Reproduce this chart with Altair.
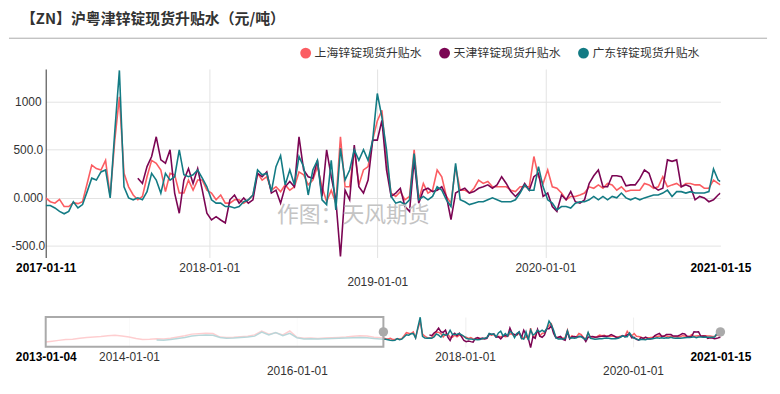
import altair as alt
import pandas as pd

TITLE = "【ZN】沪粤津锌锭现货升贴水（元/吨）"
WATERMARK = "作图：天风期货"
SERIES = ["上海锌锭现货升贴水", "天津锌锭现货升贴水", "广东锌锭现货升贴水"]
COLORS = ["#fb5d62", "#7b0553", "#137b84"]

# ---- early history (only visible in the navigator), roughly monthly ----
EARLY_DATES = ["2013-01-04"] + [f"{y}-{m:02d}-01" for y in range(2013, 2017) for m in range(1, 13)][1:]
EARLY_SH = [-250, -200, -150, -100, -80, -20, 30, 60, 100, 150,
            180, 130, 60, -30, -100, -80, -50, -60, -20, 60,
            150, 250, 280, 300, 290, 60, 40, 50, 80, 120,
            200, 450, 250, 330, 200, 450, 50, -20, 0, -30,
            0, 20, 40, 60, 120, 150, 130, 50]
EARLY_GD = [None] * 16 + [
            -120, -140, -100, -30, 40, 130, 170, 200, 180, 30,
            -20, 0, 30, 60, 120, 380, 200, 350, 150, 300,
            20, -60, -40, -60, -50, -30, -10, 0, 20, 40,
            20, -30]

# ---- main period, sampled every 10 days from 2017-01-11 ----
MAIN_DATES = pd.date_range("2017-01-11", periods=147, freq="10D").strftime("%Y-%m-%d").tolist() + ["2021-01-15"]
MAIN_SH = [0, -40, -55, -15, -90, -90, -50, -60, -40, 150,
           340, 305, 290, 390, 15, 600, 1050, 255, 115, 30,
           -20, 15, 220, 390, 360, 290, 65, 255, 240, 50,
           50, 185, 80, 185, 185, 80, 50, -20, 30, -55,
           -55, -20, -20, -55, -20, 30, 255, 185, 220, 80,
           115, 65, 135, 80, 115, 270, 240, 135, 185, 325,
           115, -40, 80, -55, 635, 115, 115, 500, 135, 290,
           325, 600, 800, 910, 390, 50, 15, 65, -20, 15,
           500, -20, 150, 50, 80, 290, 220, 15, -55, 325,
           80, 80, 50, 100, 185, 150, 170, 115, 115, 115,
           115, 80, 65, 115, 115, 115, 430, 220, 150, 290,
           115, 100, 50, -20, 15, 15, 30, 50, 115, 100,
           135, 100, 150, 135, 80, 115, 65, 80, 80, 80,
           150, 135, 100, 115, 220, 115, 135, 150, 115, 150,
           150, 135, 135, 100, 100, 185, 150, 135]
MAIN_TJ = [None] * 20 + [
           205, 150, 325, 430, 635, 395, 360, 500, 50, -160,
           185, 305, 150, 305, 80, -160, -230, -195, -230, -260,
           -20, 30, -55, 0, -55, -20, 255, 220, 270, 50,
           80, -55, 115, 170, 115, 635, 290, 220, 205, 390,
           15, 500, 220, -20, -610, 80, -20, 550, 115, 50,
           185, 600, 600, 805, 290, 15, 50, 100, -90, -140,
           395, -55, 80, 100, 65, 80, 115, 15, -225, 50,
           80, 100, 50, 65, 100, 115, 135, 100, 135, 220,
           150, 65, 15, 65, 150, 80, 220, 255, 15, 50,
           -90, -140, 30, -20, 65, -40, -55, -20, 150, 230,
           290, 115, 115, 230, 230, 220, 125, 135, 135, 200,
           290, 255, 115, 80, 100, 395, 380, 395, 115, 135,
           115, -20, 15, 0, -40, -20, 30, 50]
MAIN_GD = [-80, -80, -105, -140, -165, -140, -40, -105, -70, 65,
           205, 185, 270, 290, 0, 690, 1325, 115, 0, -20,
           0, -20, 65, 255, 185, 50, 255, 185, 220, 500,
           240, 220, 240, 290, 205, 115, -20, -55, -55, -90,
           -90, -105, -90, -40, -20, 30, 290, 240, 255, 65,
           325, 440, 135, 290, 135, 430, 325, 30, 290, 390,
           -20, -70, 390, -125, 515, 185, 290, 500, 390, 500,
           390, 600, 1085, 840, 500, 15, -55, -40, -70, -20,
           460, -20, 15, -20, 15, 115, 80, -20, -90, 360,
           -20, -40, -70, -55, -40, -40, -20, 0, -20, -40,
           -40, -40, -20, 50, 135, 80, 80, 325, 115, -20,
           -55, -125, -90, -90, -105, -55, -40, -40, -20, 15,
           -20, 15, -20, 15, 0, 50, 0, -20, 0, -20,
           0, 15, 30, 30, 50, 80, 15, 65, 65, 50,
           65, 50, 50, 50, 65, 300, 185, 170]

MAIN_TICKS = ["2017-01-11", "2018-01-01", "2019-01-01", "2020-01-01", "2021-01-15"]
OVER_TICKS = ["2013-01-04", "2014-01-01", "2016-01-01", "2018-01-01", "2020-01-01", "2021-01-15"]
Y_TICKS = [-500, 0, 500, 1000]
BOX = ["2013-01-04", "2017-01-11"]
HANDLES = ["2017-01-11", "2021-01-15"]


def dt(s):
    y, m, d = map(int, s.split("-"))
    return alt.DateTime(year=y, month=m, date=d)


def to_long(dates, columns):
    frames = []
    for name, vals in zip(SERIES, columns):
        frames.append(pd.DataFrame({"date": pd.to_datetime(dates), "series": name,
                                    "value": pd.Series(vals, dtype="float")}))
    df = pd.concat(frames, ignore_index=True)
    return df.dropna(subset=["value"])


main_df = to_long(MAIN_DATES, [MAIN_SH, MAIN_TJ, MAIN_GD])
early_df = to_long(EARLY_DATES, [EARLY_SH, [None] * len(EARLY_DATES), EARLY_GD])
over_df = pd.concat([early_df, main_df], ignore_index=True)

FONT = "Liberation Sans"
CJK = "Noto Sans CJK SC"
W, H_MAIN, H_OVER = 680, 190, 30
color_scale = alt.Scale(domain=SERIES, range=COLORS)

BOLD_TEST = "date(datum.value) != 1"
FMT = "timeFormat(datum.value, '%Y-%m-%d')"


def x_axis(ticks, lower_years, grid_color):
    cond = " || ".join(f"year(datum.value) == {y}" for y in lower_years)
    return alt.Axis(
        values=[dt(s) for s in ticks],
        labelExpr=f"({cond}) ? ['', {FMT}] : {FMT}",
        domain=False, ticks=False, grid=True, gridColor=grid_color,
        gridOpacity={"condition": {"test": BOLD_TEST, "value": 0}, "value": 1},
        labelFlush=False, labelOverlap=False, labelPadding=5,
        labelFont=FONT, labelFontSize=12, labelLineHeight=14,
        labelColor={"condition": {"test": BOLD_TEST, "value": "#000"}, "value": "#333"},
        labelFontWeight={"condition": {"test": BOLD_TEST, "value": "bold"}, "value": "normal"},
        title=None,
    )


x_main = alt.X("date:T", title=None,
               scale=alt.Scale(domain=[dt(MAIN_TICKS[0]), dt(MAIN_TICKS[-1])]),
               axis=x_axis(MAIN_TICKS, [2019], "#e3e3e3"))
y_main = alt.Y("value:Q", title=None,
               scale=alt.Scale(domain=[-620, 1340], nice=False, zero=False),
               axis=alt.Axis(values=Y_TICKS,
                             labelExpr="datum.value == 0 ? '0.000' : (datum.value >= 1000 ? format(datum.value, 'd') : (datum.value < 0 ? '-' : '') + format(abs(datum.value), '.1f'))",
                             grid=True, gridColor="#e3e3e3", domain=True, domainColor="#333",
                             ticks=False, labelAlign="center", labelPadding=18,
                             labelFont=FONT, labelFontSize=12, labelColor="#333"))

# legend source: invisible circles carrying the colour scale
legend_layer = alt.Chart(main_df).mark_circle(opacity=0, size=1).encode(
    x=x_main, y=y_main,
    color=alt.Color("series:N", scale=color_scale,
                    legend=alt.Legend(orient="none", legendX=256, legendY=-22, direction="horizontal",
                                      title=None, symbolType="circle", symbolSize=120, symbolOpacity=1,
                                      symbolStrokeWidth=0, columnPadding=16, labelOffset=3, padding=0,
                                      labelFont=CJK, labelFontSize=12, labelColor="#333")),
)
main_lines = [
    alt.Chart(main_df[main_df["series"] == s]).mark_line(strokeWidth=1.6, color=c, clip=True).encode(x=x_main, y=y_main)
    for s, c in zip(SERIES, COLORS)
]
watermark = alt.Chart(pd.DataFrame({"t": [WATERMARK]})).mark_text(
    font=CJK, fontSize=22, color="#c4c4c4", align="center", baseline="middle"
).encode(text="t:N", x=alt.value(310), y=alt.value(147))
title = alt.Chart(pd.DataFrame({"t": [TITLE]})).mark_text(
    font=CJK, fontSize=15, fontWeight="bold", color="#333", align="left", baseline="middle"
).encode(text="t:N", x=alt.value(-25), y=alt.value(-50))
title_rule = alt.Chart(pd.DataFrame({"a": [0]})).mark_rule(color="#aaa", strokeWidth=1).encode(
    x=alt.value(-37), x2=alt.value(727), y=alt.value(-31))
top_anchor = alt.Chart(pd.DataFrame({"a": [0]})).mark_rule(color="#fff", strokeOpacity=0, strokeWidth=1).encode(
    x=alt.value(-37), x2=alt.value(0), y=alt.value(-60))

main = alt.layer(legend_layer, *main_lines, watermark, title, title_rule, top_anchor).properties(
    width=W, height=H_MAIN)

over_scale = alt.Scale(domain=[dt(OVER_TICKS[0]), dt(OVER_TICKS[-1])])
x_over = alt.X("date:T", title=None, scale=over_scale, axis=x_axis(OVER_TICKS, [2016, 2020], "#eeeeee"))
y_over = alt.Y("value:Q", title=None, scale=alt.Scale(domain=[-560, 1340], nice=False, zero=False), axis=None)

over_lines = [
    alt.Chart(over_df[over_df["series"] == s]).mark_line(strokeWidth=1.5, color=c).encode(x=x_over, y=y_over)
    for s, c in zip(SERIES, COLORS)
]
box = alt.Chart(pd.DataFrame({"start": pd.to_datetime([BOX[0]]), "end": pd.to_datetime([BOX[1]])})).mark_rect(
    fill="white", fillOpacity=0.7, stroke="#aaaaaa", strokeWidth=2
).encode(x=alt.X("start:T", scale=over_scale), x2="end:T", y=alt.value(0), y2=alt.value(H_OVER))
handles = alt.Chart(pd.DataFrame({"date": pd.to_datetime(HANDLES)})).mark_point(
    filled=True, shape="circle", size=90, color="#aaaaaa", opacity=1
).encode(x="date:T", y=alt.value(H_OVER / 2))

over = alt.layer(*over_lines, box, handles).properties(width=W, height=H_OVER)

chart = alt.vconcat(main, over, spacing=60, bounds="flush").properties(
    padding={"left": 0, "top": 0, "right": 4, "bottom": 4}
).configure_view(strokeWidth=0)

chart.save("out.html", embed_options={"renderer": "svg", "actions": False})
